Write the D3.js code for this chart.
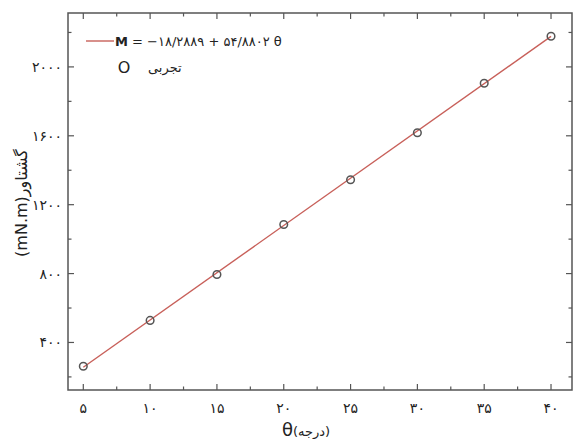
<!DOCTYPE html>
<html>
<head>
  <meta charset="utf-8" />
  <script src="https://d3js.org/d3.v7.min.js"></script>
  <style>
    body { margin: 0; background: #fff; font-family: "DejaVu Sans", "Noto Sans", sans-serif; }
  </style>
</head>
<body>
  <svg id="chart" width="574" height="439"></svg>
  <script>
    // data
    const theta = [5, 10, 15, 20, 25, 30, 35, 40];
    const torque = [262, 528, 795, 1085, 1345, 1618, 1905, 2178];
    const fitA = -18.2889, fitB = 54.8802;
    const xTicks = [5, 10, 15, 20, 25, 30, 35, 40];
    const yTicks = [400, 800, 1200, 1600, 2000];
    const legendFit = " = \u2212\u06F1\u06F8/\u06F2\u06F8\u06F8\u06F9 + \u06F5\u06F4/\u06F8\u06F8\u06F0\u06F2 \u03B8";
    const legendExp = "تجربی";

    const fa = n => String(n).replace(/[0-9]/g, c => String.fromCharCode(0x06F0 + +c));

    const svg = d3.select("#chart");
    const pLeft = 68, pRight = 572, pTop = 13, pBottom = 390;

    const x = d3.scaleLinear().domain([3.855, 41.57]).range([pLeft, pRight]);
    const y = d3.scaleLinear().domain([124, 2313]).range([pBottom, pTop]);

    const xMinor = d3.range(5, 41, 2.5);
    const yMinor = d3.range(200, 2301, 200);

    // frame
    svg.append("rect")
      .attr("x", pLeft).attr("y", pTop)
      .attr("width", pRight - pLeft).attr("height", pBottom - pTop)
      .attr("fill", "none").attr("stroke", "#555").attr("stroke-width", 1.5);

    // tick marks on all four sides, pointing inward
    const tickG = svg.append("g").attr("stroke", "#555").attr("stroke-width", 1.2);
    xMinor.forEach(v => {
      const len = xTicks.includes(v) ? 6 : 3.5;
      tickG.append("line").attr("x1", x(v)).attr("x2", x(v)).attr("y1", pBottom).attr("y2", pBottom - len);
      tickG.append("line").attr("x1", x(v)).attr("x2", x(v)).attr("y1", pTop).attr("y2", pTop + len);
    });
    yMinor.forEach(v => {
      const len = yTicks.includes(v) ? 6 : 3.5;
      tickG.append("line").attr("y1", y(v)).attr("y2", y(v)).attr("x1", pLeft).attr("x2", pLeft + len);
      tickG.append("line").attr("y1", y(v)).attr("y2", y(v)).attr("x1", pRight).attr("x2", pRight - len);
    });

    // tick labels
    svg.append("g").selectAll("text").data(xTicks).join("text")
      .attr("x", d => x(d)).attr("y", pBottom + 23)
      .attr("text-anchor", "middle")
      .attr("fill", "#222").attr("font-size", 14)
      .text(d => fa(d));

    svg.append("g").selectAll("text").data(yTicks).join("text")
      .attr("x", pLeft - 6).attr("y", d => y(d) + 5)
      .attr("text-anchor", "end")
      .attr("fill", "#222").attr("font-size", 14)
      .text(d => fa(d));

    // axis titles
    svg.append("text")
      .attr("transform", "translate(27," + 203 + ")rotate(-90)")
      .attr("text-anchor", "middle")
      .attr("direction", "ltr")
      .attr("fill", "#222").attr("font-size", 16)
      .text("(mN.m)گشتاور");

    const xt = svg.append("text")
      .attr("x", 306).attr("y", 436)
      .attr("text-anchor", "middle")
      .attr("direction", "ltr")
      .attr("fill", "#222");
    xt.append("tspan").attr("font-size", 18).text("θ");
    xt.append("tspan").attr("font-size", 13).text("(درجه)");

    // fitted line
    const ends = d3.extent(theta);
    svg.append("path").datum(ends)
      .attr("fill", "none")
      .attr("stroke", "#c8605a")
      .attr("stroke-width", 1.4)
      .attr("d", d3.line().x(d => x(d)).y(d => y(fitA + fitB * d)));

    // experimental points
    svg.append("g").selectAll("circle").data(theta).join("circle")
      .attr("cx", d => x(d))
      .attr("cy", (d, i) => y(torque[i]))
      .attr("r", 3.8)
      .attr("fill", "none")
      .attr("stroke", "#555")
      .attr("stroke-width", 1.5);

    // legend
    svg.append("line")
      .attr("x1", 86).attr("x2", 114).attr("y1", 41).attr("y2", 41)
      .attr("stroke", "#c8605a").attr("stroke-width", 1.4);
    const lt = svg.append("text")
      .attr("x", 115).attr("y", 46)
      .attr("direction", "ltr")
      .attr("fill", "#222").attr("font-size", 13);
    lt.append("tspan").attr("font-weight", "bold").text("M");
    lt.append("tspan").text(legendFit);
    svg.append("text")
      .attr("x", 124).attr("y", 73)
      .attr("text-anchor", "middle")
      .attr("fill", "#222").attr("font-size", 16)
      .text("O");
    svg.append("text")
      .attr("x", 148).attr("y", 72)
      .attr("direction", "ltr")
      .attr("fill", "#222").attr("font-size", 13)
      .text(legendExp);
  </script>
</body>
</html>
